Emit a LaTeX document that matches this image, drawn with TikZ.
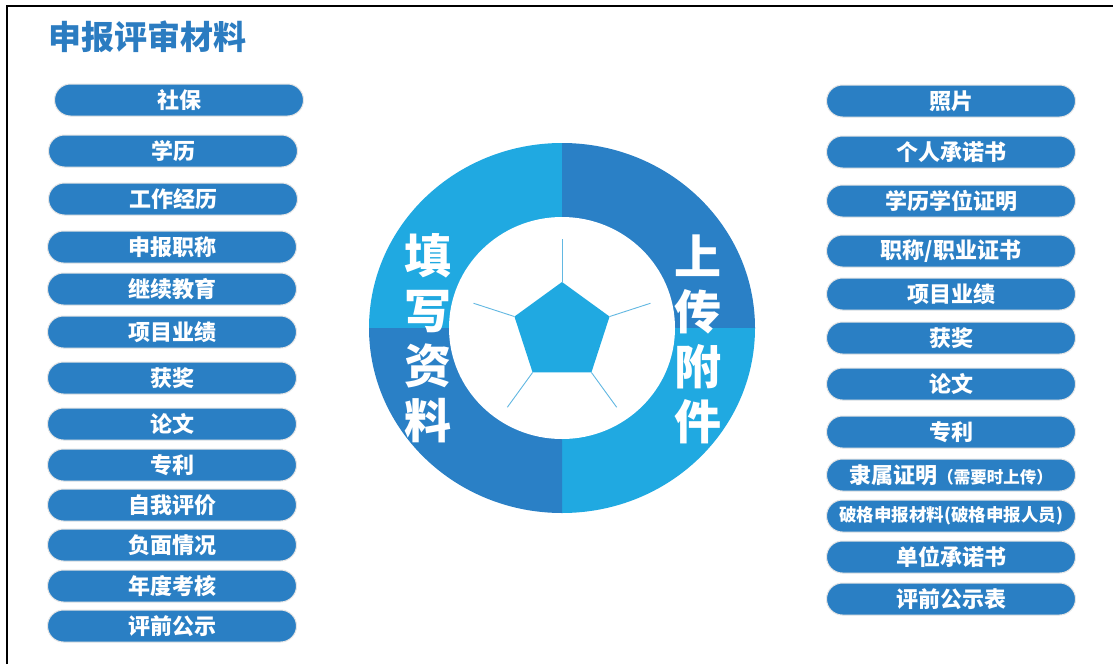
\documentclass[tikz,border=0pt]{standalone}
\usepackage{fontspec}
\setmainfont{Noto Sans CJK SC}
\definecolor{pillblue}{HTML}{2A7FC4}
\definecolor{lightb}{HTML}{20A9E1}
\definecolor{darkb}{HTML}{2A80C6}
\definecolor{titleb}{HTML}{2B7CC1}
\definecolor{spoke}{HTML}{62B8E2}
\tikzset{
  pill/.style={rectangle, rounded corners=16pt, minimum width=249pt, minimum height=32pt,
    inner sep=0pt, fill=pillblue, draw=black!10, line width=1pt, text=white,
    font=\fontsize{22}{24}\selectfont\bfseries},
  bigtxt/.style={text=white, align=center, inner sep=0pt,
    font=\fontsize{47}{55}\selectfont\bfseries}
}
\begin{document}
\begin{tikzpicture}[x=1pt,y=-1pt]
\useasboundingbox (0,0) rectangle (1113,664);
\fill[white] (0,0) rectangle (1113,664);
\draw[line width=2.2pt] (7,664) -- (7,6) -- (1113,6);
\node[anchor=west, text=titleb, inner sep=0pt, font=\fontsize{33}{36}\selectfont\bfseries] (title) at (48,37) {申报评审材料};

% left column
\node[pill] (l1) at (179,100) {社保};
\node[pill] (l2) at (173,151) {学历};
\node[pill] (l3) at (173,199) {工作经历};
\node[pill] (l4) at (172,247) {申报职称};
\node[pill] (l5) at (172,289) {继续教育};
\node[pill] (l6) at (172,332) {项目业绩};
\node[pill] (l7) at (172,378) {获奖};
\node[pill] (l8) at (172,424) {论文};
\node[pill] (l9) at (172,465) {专利};
\node[pill] (l10) at (172,505) {自我评价};
\node[pill] (l11) at (172,545) {负面情况};
\node[pill] (l12) at (172,586) {年度考核};
\node[pill] (l13) at (172,626) {评前公示};

% right column
\node[pill] (r1) at (951,101) {照片};
\node[pill] (r2) at (951,152) {个人承诺书};
\node[pill] (r3) at (951,201) {学历学位证明};
\node[pill] (r4) at (951,251) {职称/职业证书};
\node[pill] (r5) at (951,294) {项目业绩};
\node[pill] (r6) at (951,338) {获奖};
\node[pill] (r7) at (951,384) {论文};
\node[pill] (r8) at (951,432) {专利};
\node[pill] (r9) at (951,475) {隶属证明{\fontsize{16.5}{18}\selectfont（需要时上传）}};
\node[pill, font=\fontsize{17.5}{20}\selectfont\bfseries] (r10) at (951,516) {破格申报材料(破格申报人员)};
\node[pill] (r11) at (951,557) {单位承诺书};
\node[pill] (r12) at (951,599) {评前公示表};

% central ring
\begin{scope}[shift={(562,328)}, y=1pt]
  \fill[lightb] (0,0) -- (-193,0) arc[start angle=180, end angle=90, x radius=193, y radius=185] -- cycle;
  \fill[darkb]  (0,0) -- (0,185) arc[start angle=90, end angle=0, x radius=193, y radius=185] -- cycle;
  \fill[lightb] (0,0) -- (193,0) arc[start angle=0, end angle=-90, x radius=193, y radius=185] -- cycle;
  \fill[darkb]  (0,0) -- (0,-185) arc[start angle=-90, end angle=-180, x radius=193, y radius=185] -- cycle;
  \fill[white] (0,0) ellipse[x radius=113, y radius=111];
  \begin{scope}[shift={(0,-4)}]
    \fill[lightb] (90:50) -- (18:50) -- (-54:50) -- (-126:50) -- (162:50) -- cycle;
    \foreach \a in {90,18,-54,-126,162}
      \draw[spoke, line width=0.9pt] (\a:50) -- (\a:93);
  \end{scope}
\end{scope}

\node[bigtxt] (fill) at (428,338) {填\\写\\资\\料};
\node[bigtxt] (upload) at (698,339) {上\\传\\附\\件};
\end{tikzpicture}
\end{document}
